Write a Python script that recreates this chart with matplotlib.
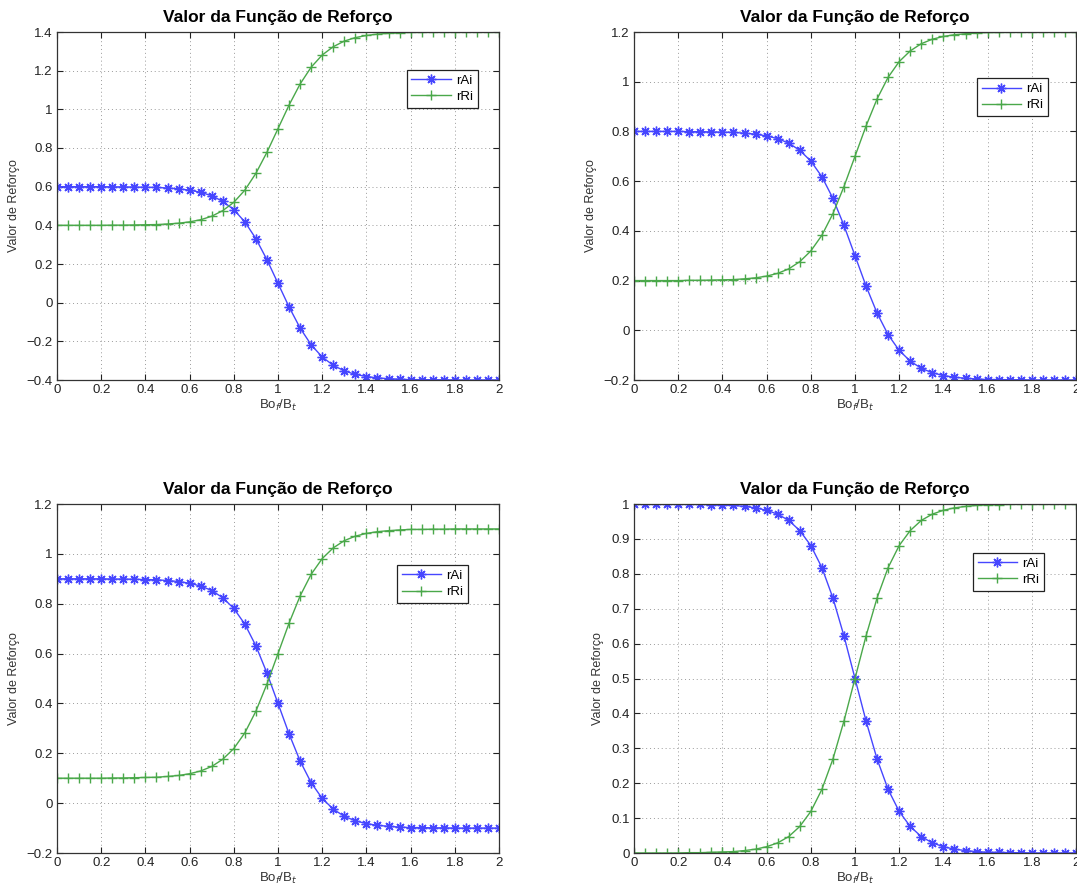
import numpy as np
import matplotlib
matplotlib.use("Agg")
import matplotlib.pyplot as plt
from matplotlib.ticker import FuncFormatter

plt.rcParams['font.family'] = ['Liberation Sans', 'DejaVu Sans']

x = np.linspace(0, 2, 41)

# Top-left panel
rAi_1 = [0.600,0.600,0.600,0.600,0.600,0.599,0.599,0.598,0.597,0.596,0.593,0.589,0.582,0.571,0.553,0.524,0.481,0.418,0.331,0.222,0.100,-0.022,-0.131,-0.218,-0.281,-0.324,-0.353,-0.371,-0.382,-0.389,-0.393,-0.396,-0.398,-0.398,-0.399,-0.399,-0.400,-0.400,-0.400,-0.400,-0.400]
rRi_1 = [0.400,0.400,0.400,0.400,0.400,0.401,0.401,0.402,0.403,0.404,0.407,0.411,0.418,0.429,0.447,0.476,0.519,0.582,0.669,0.778,0.900,1.022,1.131,1.218,1.281,1.324,1.353,1.371,1.382,1.389,1.393,1.396,1.398,1.398,1.399,1.399,1.400,1.400,1.400,1.400,1.400]
# Top-right panel
rAi_2 = [0.800,0.800,0.800,0.800,0.800,0.799,0.799,0.798,0.797,0.796,0.793,0.789,0.782,0.771,0.753,0.724,0.681,0.618,0.531,0.422,0.300,0.178,0.069,-0.018,-0.081,-0.124,-0.153,-0.171,-0.182,-0.189,-0.193,-0.196,-0.198,-0.198,-0.199,-0.199,-0.200,-0.200,-0.200,-0.200,-0.200]
rRi_2 = [0.200,0.200,0.200,0.200,0.200,0.201,0.201,0.202,0.203,0.204,0.207,0.211,0.218,0.229,0.247,0.276,0.319,0.382,0.469,0.578,0.700,0.822,0.931,1.018,1.081,1.124,1.153,1.171,1.182,1.189,1.193,1.196,1.198,1.198,1.199,1.199,1.200,1.200,1.200,1.200,1.200]
# Bottom-left panel
rAi_3 = [0.900,0.900,0.900,0.900,0.900,0.899,0.899,0.898,0.897,0.896,0.893,0.889,0.882,0.871,0.853,0.824,0.781,0.718,0.631,0.522,0.400,0.278,0.169,0.082,0.019,-0.024,-0.053,-0.071,-0.082,-0.089,-0.093,-0.096,-0.098,-0.098,-0.099,-0.099,-0.100,-0.100,-0.100,-0.100,-0.100]
rRi_3 = [0.100,0.100,0.100,0.100,0.100,0.101,0.101,0.102,0.103,0.104,0.107,0.111,0.118,0.129,0.147,0.176,0.219,0.282,0.369,0.478,0.600,0.722,0.831,0.918,0.981,1.024,1.053,1.071,1.082,1.089,1.093,1.096,1.098,1.098,1.099,1.099,1.100,1.100,1.100,1.100,1.100]
# Bottom-right panel
rAi_4 = [1.000,1.000,1.000,1.000,1.000,0.999,0.999,0.998,0.997,0.996,0.993,0.989,0.982,0.971,0.953,0.924,0.881,0.818,0.731,0.622,0.500,0.378,0.269,0.182,0.119,0.076,0.047,0.029,0.018,0.011,0.007,0.004,0.002,0.002,0.001,0.001,0.000,0.000,0.000,0.000,0.000]
rRi_4 = [0.000,0.000,0.000,0.000,0.000,0.001,0.001,0.002,0.003,0.004,0.007,0.011,0.018,0.029,0.047,0.076,0.119,0.182,0.269,0.378,0.500,0.622,0.731,0.818,0.881,0.924,0.953,0.971,0.982,0.989,0.993,0.996,0.998,0.998,0.999,0.999,1.000,1.000,1.000,1.000,1.000]

ylims = [(-0.4, 1.4), (-0.2, 1.2), (-0.2, 1.2), (0, 1)]
ysteps = [0.2, 0.2, 0.2, 0.1]
title = "Valor da Função de Reforço"
xlabel = "Bo$_f$/B$_t$"
ylabel = "Valor de Reforço"
series_labels = ["rAi", "rRi"]

W, H = 1077, 888
fig = plt.figure(figsize=(W / 100, H / 100), dpi=100)

# axes rectangles in pixels: left, top, right, bottom
rects = [(57, 32, 499, 380), (634, 32, 1076, 380), (57, 504, 499, 853), (634, 504, 1076, 853)]
leg_anchor = [(0.952, 0.891), (0.937, 0.867), (0.930, 0.825), (0.928, 0.860)]
data = [(rAi_1, rRi_1), (rAi_2, rRi_2), (rAi_3, rRi_3), (rAi_4, rRi_4)]

blue = '#4646ff'
green = '#4aa84a'

fmt = FuncFormatter(lambda v, p: ('%g' % round(v, 3)).replace('-', '\u2212'))

for i, (l, t, r, b) in enumerate(rects):
    ax = fig.add_axes([l / W, 1 - b / H, (r - l) / W, (b - t) / H])
    ya, yr = data[i]
    ax.plot(x, ya, color=blue, marker=(8, 2, 0), markersize=7, markeredgewidth=1.0,
            linewidth=1.0, label=series_labels[0])
    ax.plot(x, yr, color=green, marker='+', markersize=7, markeredgewidth=1.0,
            linewidth=1.0, label=series_labels[1])
    lo, hi = ylims[i]
    ax.set_xlim(0, 2)
    ax.set_ylim(lo, hi)
    ax.set_xticks(np.arange(0, 2.0001, 0.2))
    ax.set_yticks(np.arange(lo, hi + 1e-6, ysteps[i]))
    ax.xaxis.set_major_formatter(fmt)
    ax.yaxis.set_major_formatter(fmt)
    ax.tick_params(direction='in', top=True, right=True, length=4, width=0.8,
                   labelsize=9.5, colors='#222222', pad=3)
    ax.grid(True, linestyle=(0, (1, 3)), color='#9a9a9a', linewidth=0.7)
    for sp in ax.spines.values():
        sp.set_color('#333333')
        sp.set_linewidth(0.9)
    ax.set_title(title, fontsize=12.5, fontweight='bold', pad=7)
    ax.set_xlabel(xlabel, fontsize=9.5, color='#333333', labelpad=1)
    ax.set_ylabel(ylabel, fontsize=9, color='#333333', labelpad=5)
    leg = ax.legend(loc='upper right', bbox_to_anchor=leg_anchor[i], fontsize=9.5,
                    numpoints=1, handlelength=3.0, fancybox=False, framealpha=1,
                    edgecolor='#222222', borderpad=0.35, labelspacing=0.3,
                    handletextpad=0.4, borderaxespad=0)
    leg.get_frame().set_linewidth(0.9)

fig.savefig("out.png", dpi=100)
